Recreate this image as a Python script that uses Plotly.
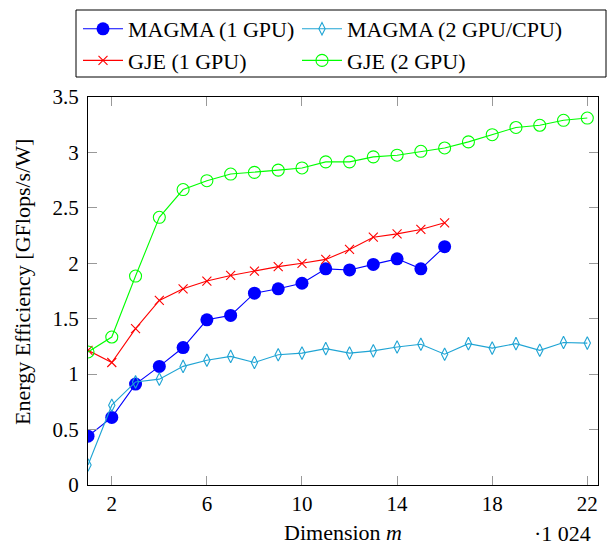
import plotly.graph_objects as go

x_magma1 = list(range(1, 17))
magma1 = [0.44, 0.61, 0.91, 1.07, 1.24, 1.49, 1.53, 1.73, 1.77, 1.82, 1.95, 1.94, 1.99, 2.04, 1.95, 2.15]

x_magma2 = list(range(1, 23))
magma2 = [0.18, 0.72, 0.93, 0.955, 1.07, 1.125, 1.16, 1.105, 1.175, 1.19, 1.23, 1.19, 1.21, 1.245, 1.27, 1.18,
          1.275, 1.235, 1.275, 1.215, 1.285, 1.28]

x_gje1 = list(range(1, 17))
gje1 = [1.215, 1.105, 1.41, 1.665, 1.77, 1.84, 1.89, 1.93, 1.97, 2.0, 2.035, 2.125, 2.235, 2.265, 2.305, 2.365]

x_gje2 = list(range(1, 23))
gje2 = [1.2, 1.335, 1.885, 2.415, 2.665, 2.745, 2.805, 2.82, 2.84, 2.86, 2.915, 2.915, 2.96, 2.975, 3.01, 3.04,
        3.095, 3.16, 3.225, 3.245, 3.29, 3.31]

x_ticks = [2, 6, 10, 14, 18, 22]
y_ticks = [0, 0.5, 1, 1.5, 2, 2.5, 3, 3.5]
y_tick_labels = ["0", "0.5", "1", "1.5", "2", "2.5", "3", "3.5"]

FONT = "'Liberation Serif', 'DejaVu Serif', serif"
FS = 22
FS_TICK = 21
BLUE = "#0000ff"
CYAN = "#1fa4d4"
RED = "#ff0000"
GREEN = "#00ff00"

fig = go.Figure()
fig.add_trace(go.Scatter(x=x_magma1, y=magma1, name="MAGMA (1 GPU)", mode="lines+markers", legend="legend",
                         line=dict(color=BLUE, width=1.1),
                         marker=dict(symbol="circle", size=13, color=BLUE)))
fig.add_trace(go.Scatter(x=x_magma2, y=magma2, name="MAGMA (2 GPU/CPU)", mode="lines+markers", legend="legend2",
                         line=dict(color=CYAN, width=1.1),
                         marker=dict(symbol="diamond-tall-open", size=9, color=CYAN, line=dict(width=1.1, color=CYAN))))
fig.add_trace(go.Scatter(x=x_gje1, y=gje1, name="GJE (1 GPU)", mode="lines+markers", legend="legend",
                         line=dict(color=RED, width=1.1),
                         marker=dict(symbol="x-thin-open", size=9, color=RED, line=dict(width=1.1, color=RED))))
fig.add_trace(go.Scatter(x=x_gje2, y=gje2, name="GJE (2 GPU)", mode="lines+markers", legend="legend2",
                         line=dict(color=GREEN, width=1.1),
                         marker=dict(symbol="circle-open", size=12, color=GREEN, line=dict(width=1.1, color=GREEN))))

axis_common = dict(showline=True, linecolor="black", linewidth=1.2, mirror="allticks",
                   ticks="inside", ticklen=9, tickcolor="#999999", tickwidth=1,
                   showgrid=False, zeroline=False, automargin=False,
                   tickfont=dict(family=FONT, size=FS_TICK, color="black"))

fig.update_xaxes(range=[1, 22.45], tickvals=x_ticks,
                 title=dict(text="Dimension <i>m</i>", font=dict(family=FONT, size=FS, color="black"), standoff=13),
                 **axis_common)
fig.update_yaxes(range=[0, 3.5], tickvals=y_ticks, ticktext=y_tick_labels, ticklabelstandoff=4,
                 **axis_common)

fig.add_annotation(text="Energy Efficiency [GFlops/s/W]", xref="paper", yref="paper",
                   x=(22 - 88) / 510, y=(485 - 282) / 388, textangle=-90,
                   xanchor="center", yanchor="middle", showarrow=False,
                   font=dict(family=FONT, size=FS, color="black"))

fig.add_annotation(text="·1 024", xref="paper", yref="paper", x=(593 - 88) / 510, y=(485 - 533) / 388,
                   xanchor="right", yanchor="middle", showarrow=False,
                   font=dict(family=FONT, size=FS, color="black"))

# legend frame
fig.add_shape(type="rect", xref="paper", yref="paper",
              x0=(76 - 88) / 510, x1=(606 - 88) / 510, y0=(485 - 77) / 388, y1=(485 - 10) / 388,
              line=dict(color="black", width=1), fillcolor="white", layer="below")

leg_common = dict(orientation="v", xref="container", yref="container", xanchor="left", yanchor="top",
                  bgcolor="rgba(0,0,0,0)", borderwidth=0, itemwidth=40,
                  font=dict(family=FONT, size=FS, color="black"))

fig.update_layout(
    width=607, height=545,
    margin=dict(l=88, r=9, t=97, b=60, autoexpand=False),
    plot_bgcolor="white", paper_bgcolor="white",
    font=dict(family=FONT, size=FS, color="black"),
    legend=dict(x=78 / 607, y=1 - 8 / 545, **leg_common),
    legend2=dict(x=297 / 607, y=1 - 8 / 545, **leg_common),
    showlegend=True,
)

fig.write_html("out.html", post_script="document.body.style.margin='0';",
               config={"displayModeBar": False})
